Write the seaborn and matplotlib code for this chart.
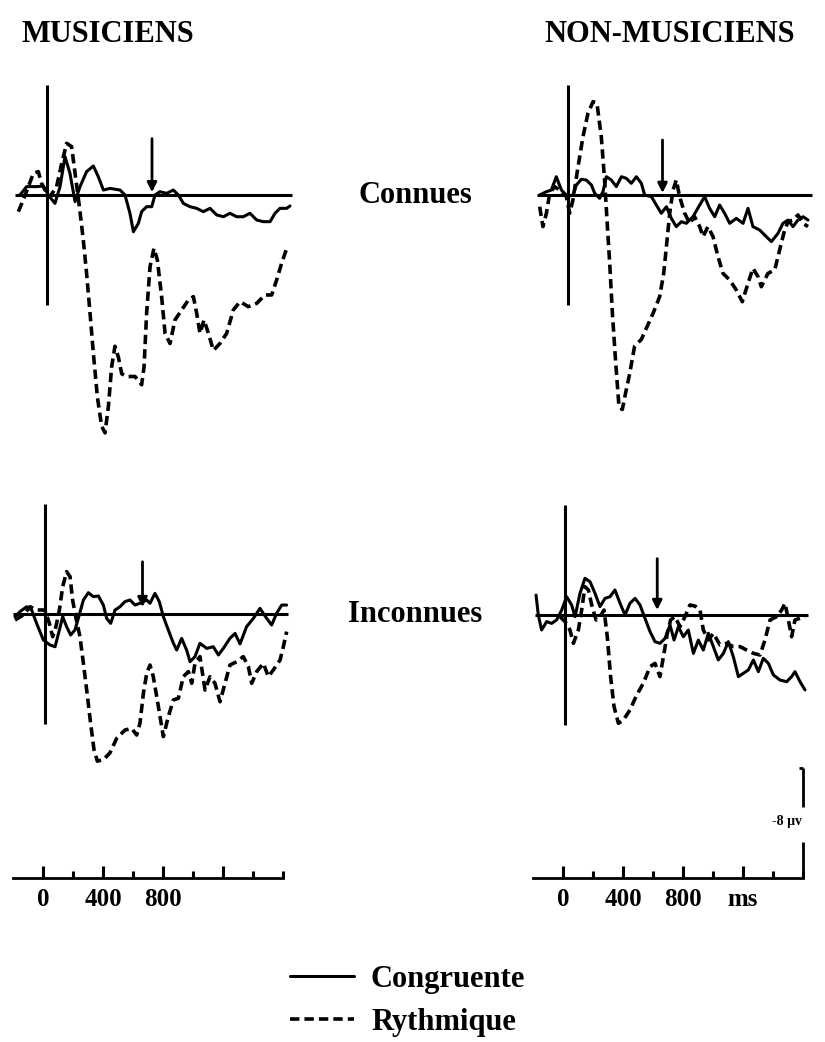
#!/usr/bin/env python3

import numpy as np
import matplotlib
matplotlib.use("Agg")
import matplotlib.pyplot as plt
import seaborn as sns

# ERP traces, time in ms, amplitude in microvolts (positive plotted downward)
# Musiciens / Connues
tl_cong_t = [-180, -136, -69, -24, 9, 53, 87, 120, 153, 187, 220, 264, 309, 342, 376, 420,
             487, 520, 553, 576, 609, 631, 664, 698, 720, 753, 798, 842, 876, 909, 953, 998,
             1042, 1087, 1131, 1176, 1220, 1264, 1309, 1353, 1398, 1442, 1487, 1520, 1553,
             1598, 1620]
tl_cong_v = [0, -0.61, -0.61, -0.65, 0, 0.61, -0.61, -2.79, -1.58, 0.48, -0.61, -1.70,
             -2.11, -1.33, -0.36, -0.48, -0.36, 0, 1.33, 2.67, 2.06, 1.21, 0.85, 0.85, 0,
             -0.24, -0.12, -0.36, 0, 0.61, 0.85, 0.97, 1.21, 0.97, 1.45, 1.58, 1.33, 1.58,
             1.58, 1.33, 1.82, 1.94, 1.94, 1.33, 0.97, 0.97, 0.80]
tl_ryth_t = [-191, -158, -124, -91, -58, -36, -2, 20, 64, 98, 131, 164, 193, 216, 242, 264,
             287, 309, 336, 364, 387, 409, 431, 453, 476, 498, 531, 587, 631, 647, 664, 687,
             713, 736, 764, 787, 820, 853, 898, 942, 976, 998, 1020, 1047, 1076, 1109, 1153,
             1198, 1242, 1287, 1342, 1398, 1453, 1498, 1531, 1564, 1598]
tl_ryth_v = [1.21, 0.36, -0.61, -1.58, -1.70, -0.85, -0.12, 0.12, -0.61, -2.30, -3.76, -3.52,
             -1.09, 0.85, 3.27, 5.70, 8.61, 11.5, 14.7, 16.8, 17.3, 15.4, 12.5, 11.0, 11.8,
             13.0, 13.2, 13.2, 13.8, 12.5, 8.61, 5.21, 3.88, 4.73, 7.39, 10.06, 10.8, 9.09,
             8.36, 7.64, 7.39, 8.61, 10.06, 9.09, 10.06, 11.3, 10.8, 10.06, 8.36, 7.76, 8.12,
             7.88, 7.27, 7.27, 6.18, 4.97, 3.88]

# Non-musiciens / Connues
tr_cong_t = [-189, -144, -111, -78, -44, 0, 33, 56, 89, 122, 156, 178, 211, 233, 256, 289,
             322, 356, 389, 422, 456, 489, 511, 556, 589, 622, 656, 689, 722, 756, 789, 833,
             878, 911, 944, 978, 1011, 1044, 1078, 1122, 1167, 1200, 1233, 1278, 1322, 1356,
             1400, 1433, 1467, 1500, 1533, 1567, 1600]
tr_cong_v = [0, -0.24, -0.36, -1.33, -0.36, 0.12, 0, -0.73, -1.14, -1.09, -0.73, -0.12,
             0.24, -0.24, -1.33, -1.09, -0.61, -1.33, -1.21, -0.85, -1.33, -0.85, 0, 0.12,
             0.73, 1.33, 0.85, 1.70, 2.30, 1.94, 2.06, 1.58, 0.73, 0.12, 0.97, 1.58, 0.73,
             1.33, 2.06, 1.70, 2.06, 0.97, 2.30, 2.55, 3.03, 3.39, 2.79, 2.06, 1.82, 2.30,
             1.82, 1.58, 1.82]
tr_ryth_t = [-189, -167, -144, -122, -89, -56, -11, 11, 33, 67, 100, 133, 167, 193, 222, 244,
             260, 278, 296, 318, 340, 362, 384, 411, 444, 489, 522, 567, 611, 638, 656, 678,
             700, 722, 744, 778, 811, 844, 878, 900, 933, 967, 1000, 1033, 1078, 1122, 1162,
             1200, 1233, 1267, 1289, 1333, 1378, 1411, 1444, 1467, 1500, 1533, 1567, 1600]
tr_ryth_v = [0.85, 2.30, 1.33, -0.12, -0.61, -0.36, 0.12, 1.33, 0.36, -2.06, -4.24, -5.94,
             -6.79, -6.67, -4.24, -1.09, 1.82, 4.97, 8.61, 12.2, 15.4, 15.6, 14.4, 13.0, 11.0,
             10.5, 9.70, 8.61, 7.39, 5.70, 3.76, 1.33, -0.36, -1.09, 0.12, 1.33, 2.06, 1.58,
             2.30, 3.03, 2.30, 3.03, 4.48, 5.70, 6.18, 6.91, 7.76, 6.42, 5.33, 5.94, 6.67,
             5.70, 5.45, 4.00, 2.55, 1.94, 1.82, 1.45, 2.06, 2.30]

# Musiciens / Inconnues
bl_cong_t = [-200, -167, -122, -89, -56, -11, 33, 67, 96, 118, 144, 171, 200, 222, 256, 289,
             322, 356, 389, 411, 438, 467, 500, 533, 567, 600, 633, 678, 700, 733, 762, 789,
             822, 856, 878, 911, 944, 967, 1000, 1033, 1078, 1122, 1156, 1189, 1233, 1267,
             1300, 1344, 1389, 1433, 1478, 1511, 1544, 1578, 1611]
bl_cong_v = [0.19, -0.17, -0.53, -0.29, 0.68, 1.89, 2.25, 2.38, 1.16, 0.19, 0.92, 1.53, 1.16,
             0.32, -1.02, -1.55, -1.26, -1.31, -0.65, 0.32, 0.68, -0.29, -0.53, -0.90, -1.02,
             -0.65, -0.78, -1.02, -0.78, -1.50, -0.90, 0.19, 1.16, 2.13, 2.62, 1.77, 2.62,
             3.47, 3.10, 2.13, 2.50, 2.38, 2.98, 2.50, 1.77, 1.41, 2.18, 0.92, 0.32, -0.41,
             0.32, 0.80, -0.05, -0.65, -0.65]
bl_ryth_t = [-200, -144, -100, -56, 0, 29, 51, 73, 96, 118, 144, 167, 184, 207, 233, 256, 278,
             304, 327, 349, 389, 433, 478, 533, 578, 611, 633, 656, 678, 700, 722, 756, 789,
             822, 856, 889, 922, 956, 978, 1000, 1033, 1067, 1100, 1133, 1167, 1200, 1233,
             1278, 1322, 1356, 1378, 1411, 1456, 1489, 1522, 1567, 1589, 1611]
bl_ryth_v = [0.44, 0.07, -0.53, -0.29, -0.29, 0.68, 1.65, 0.92, -0.29, -1.99, -3.08, -2.72,
             -1.02, 0.32, 1.65, 3.59, 5.53, 7.95, 9.89, 10.7, 10.6, 10.1, 9.04, 8.44, 8.32,
             8.80, 7.95, 5.77, 4.32, 3.71, 4.56, 6.74, 8.92, 7.47, 6.25, 6.13, 4.56, 4.19,
             5.04, 3.59, 3.10, 5.53, 4.56, 5.04, 6.38, 5.04, 3.71, 3.47, 3.10, 3.83, 5.04,
             4.19, 3.59, 4.56, 4.07, 3.35, 2.38, 1.28]

# Non-musiciens / Inconnues
br_cong_t = [-193, -178, -156, -122, -89, -56, -22, 11, 44, 67, 100, 133, 167, 200, 233, 267,
             300, 333, 367, 400, 433, 467, 500, 533, 567, 600, 633, 667, 700, 727, 756, 789,
             822, 856, 889, 922, 956, 989, 1022, 1056, 1089, 1122, 1156, 1189, 1222, 1256,
             1289, 1322, 1356, 1389, 1433, 1478, 1511, 1533, 1567, 1600]
br_cong_v = [-1.45, 0, 1.09, 0.48, 0.61, 0.36, -0.36, -1.33, -0.73, 0.12, -1.58, -2.67, -2.42,
             -1.58, -0.61, -1.21, -1.33, -1.82, -0.85, 0, -0.85, -1.21, -0.73, 0.24, 1.21,
             1.94, 2.06, 1.70, 0.73, 1.82, 0.85, 1.58, 1.09, 2.79, 1.82, 2.55, 1.33, 2.30,
             3.27, 2.79, 1.94, 3.03, 4.48, 4.24, 4.00, 3.27, 4.12, 3.15, 3.52, 4.36, 4.73,
             4.85, 4.48, 4.12, 4.85, 5.45]
br_ryth_t = [-33, 0, 33, 56, 89, 111, 133, 156, 178, 207, 233, 260, 282, 304, 327, 356, 389,
             433, 478, 522, 567, 600, 633, 660, 682, 704, 733, 767, 800, 833, 867, 900, 922,
             956, 989, 1033, 1078, 1122, 1167, 1211, 1256, 1300, 1333, 1367, 1411, 1444, 1467,
             1489, 1511, 1533, 1567, 1600]
br_ryth_v = [0.12, 0.48, 1.09, 2.06, 1.09, -0.36, -2.06, -1.82, -0.73, 0.36, 0.12, -0.36,
             1.58, 4.48, 6.67, 7.88, 7.64, 6.91, 5.82, 4.97, 3.76, 3.52, 4.48, 2.79, 1.33,
             0.36, 0.12, 0.85, 0.12, -0.73, -0.65, -0.36, 1.09, 1.82, 1.33, 2.18, 2.06, 2.30,
             2.30, 2.55, 2.79, 2.91, 1.82, 0.36, 0.12, -0.36, -0.85, 0.36, 1.58, 0.36, 0.24,
             0.12]

# arrows marking the final note (time in ms, top and tip in microvolts)
arrow_t = [700, 630, 650, 615]
arrow_top = [-4.1, -4.0, -3.8, -4.1]
arrow_tip = [-0.2, -0.15, -0.5, -0.36]

col_titles = ["MUSICIENS", "NON-MUSICIENS"]
row_titles = ["Connues", "Inconnues"]
legend_labels = ["Congruente", "Rythmique"]
left_ticklabels = ["0", "400", "800", ""]
right_ticklabels = ["0", "400", "800", "ms"]
calib_label = "-8 \u03bcv"

W, H = 825, 1042
PX_MS = 0.15      # pixels per ms
PX_UV = 13.75     # pixels per microvolt
T_MIN, T_MAX = -230, 1680
V_MIN, V_MAX = -8.5, 18.5

sns.set_style("white")
plt.rcParams["font.family"] = ["Liberation Serif", "DejaVu Serif"]
plt.rcParams["text.color"] = "black"
plt.rcParams["xtick.color"] = "black"

fig = plt.figure(figsize=(W / 100, H / 100), dpi=100)


def add_px_axes(left, top, width, height):
    return fig.add_axes([left / W, 1 - (top + height) / H, width / W, height / H])


def panel(x0, y0, cong_t, cong_v, ryth_t, ryth_v, k, base_span):
    """One ERP panel, x0/y0 = pixel of t=0 and baseline."""
    ax = add_px_axes(x0 + T_MIN * PX_MS, y0 + V_MIN * PX_UV,
                     (T_MAX - T_MIN) * PX_MS, (V_MAX - V_MIN) * PX_UV)
    ax.hlines(0, base_span[0], base_span[1], color="black", lw=2.2)
    ax.vlines(0, -8.0, 8.0, color="black", lw=2.2)
    sns.lineplot(x=cong_t, y=cong_v, ax=ax, color="black", lw=2.2, sort=False,
                 estimator=None)
    solid = ax.lines[-1]
    sns.lineplot(x=ryth_t, y=ryth_v, ax=ax, color="black", lw=2.6, sort=False,
                 estimator=None, linestyle=(0, (2.6, 1.4)))
    dashed = ax.lines[-1]
    ax.annotate("", xy=(arrow_t[k], arrow_tip[k]), xytext=(arrow_t[k], arrow_top[k]),
                arrowprops=dict(arrowstyle="-|>", color="black", lw=2.0,
                                mutation_scale=14, shrinkA=0, shrinkB=0))
    ax.set_xlim(T_MIN, T_MAX)
    ax.set_ylim(V_MAX, V_MIN)
    ax.axis("off")
    return solid, dashed


solid, dashed = panel(47, 195, tl_cong_t, tl_cong_v, tl_ryth_t, tl_ryth_v, 0, (-215, 1630))
panel(568, 195, tr_cong_t, tr_cong_v, tr_ryth_t, tr_ryth_v, 1, (-207, 1627))
panel(45, 614, bl_cong_t, bl_cong_v, bl_ryth_t, bl_ryth_v, 2, (-213, 1620))
panel(565, 615, br_cong_t, br_cong_v, br_ryth_t, br_ryth_v, 3, (-200, 1620))


def time_axis(x0, labels, calib):
    height = 118
    ax = add_px_axes(x0 + T_MIN * PX_MS, 878 - height, (T_MAX - T_MIN) * PX_MS, height)
    ax.set_xlim(T_MIN, T_MAX)
    ax.set_ylim(0, height / PX_UV)
    for s in ["top", "left", "right"]:
        ax.spines[s].set_visible(False)
    ax.spines["bottom"].set_bounds(-200, 1600)
    ax.spines["bottom"].set_linewidth(2.0)
    ax.spines["bottom"].set_color("black")
    ax.set_yticks([])
    ax.set_xticks([0, 400, 800, 1200])
    ax.set_xticklabels(labels)
    ax.set_xticks([200, 600, 1000, 1400, 1600], minor=True)
    ax.tick_params(axis="x", which="major", bottom=True, direction="in", length=9,
                   width=2.2, pad=7, labelsize=18, colors="black")
    ax.tick_params(axis="x", which="minor", bottom=True, direction="in", length=5,
                   width=2.2, colors="black")
    for lab in ax.get_xticklabels():
        lab.set_fontweight("bold")
    ax.patch.set_alpha(0)
    if calib:
        ax.vlines(1600, 0, 2.6, color="black", lw=2.0)
        ax.vlines(1600, 5.2, 8.0, color="black", lw=2.0)
        ax.hlines(8.0, 1575, 1600, color="black", lw=2.0)
        ax.text(1490, 4.1, calib_label, ha="center", va="center", fontsize=10,
                fontweight="bold")


time_axis(43, left_ticklabels, False)
time_axis(563, right_ticklabels, True)

title_kw = dict(fontsize=22, fontweight="bold", ha="center", va="baseline")
fig.text(108 / W, 1 - 42 / H, col_titles[0], **title_kw)
fig.text(670 / W, 1 - 42 / H, col_titles[1], **title_kw)
fig.text(415 / W, 1 - 203 / H, row_titles[0], **title_kw)
fig.text(415 / W, 1 - 622 / H, row_titles[1], **title_kw)

fig.legend([solid, dashed], legend_labels, loc="upper left",
           bbox_to_anchor=(290 / W, 1 - 965 / H), frameon=False,
           prop={"weight": "bold", "size": 22}, handlelength=2.1,
           handletextpad=0.55, labelspacing=0.45, borderpad=0, borderaxespad=0)

fig.savefig("out.png", dpi=100, facecolor="white")
